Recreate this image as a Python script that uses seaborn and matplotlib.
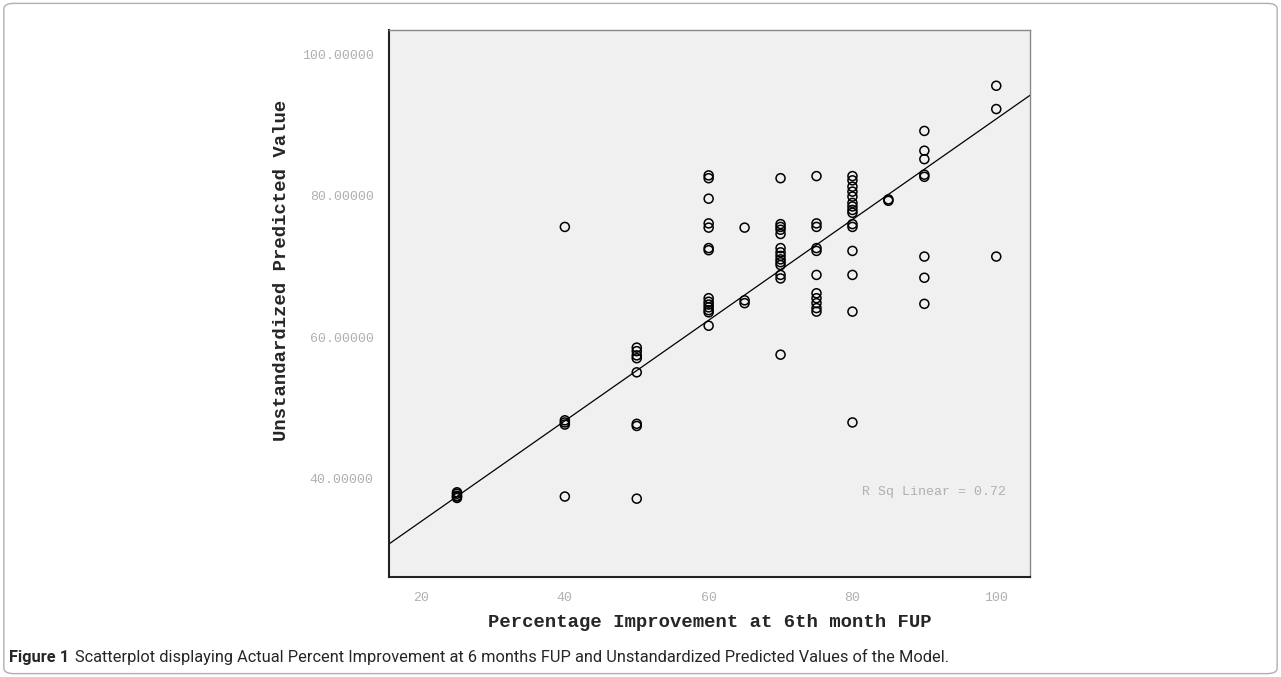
import matplotlib
matplotlib.use('Agg')
import matplotlib.pyplot as plt
import pandas as pd
import seaborn as sns
from matplotlib.patches import FancyBboxPatch

# Predicted values, grouped by actual % improvement
x_levels = [25, 40, 50, 60, 65, 70, 75, 80, 85, 90, 100]
pred_25 = [37.2, 37.5, 37.8, 38.0, 37.4]
pred_40 = [75.6, 48.2, 47.9, 47.6, 37.4]
pred_50 = [58.5, 58.0, 57.4, 57.0, 55.0, 47.7, 47.4, 37.1]
pred_60 = [82.9, 82.5, 79.6, 76.1, 75.5, 72.6, 72.3, 65.5, 65.0, 64.6, 64.2, 63.8, 63.5, 61.6]
pred_65 = [75.5, 65.2, 64.8]
pred_70 = [82.5, 76.0, 75.6, 75.2, 74.6, 72.6, 72.0, 71.5, 71.0, 70.6, 70.2, 68.8, 68.3, 57.5]
pred_75 = [82.8, 76.1, 75.6, 72.6, 72.2, 68.8, 66.2, 65.5, 64.8, 64.1, 63.6]
pred_80 = [82.8, 82.2, 81.3, 80.6, 79.9, 79.0, 78.5, 78.0, 77.6, 76.0, 75.6, 72.2, 68.8, 63.6, 47.9]
pred_85 = [79.3, 79.5]
pred_90 = [89.2, 86.4, 85.2, 83.0, 82.7, 71.4, 68.4, 64.7]
pred_100 = [95.6, 92.3, 71.4]
groups = [pred_25, pred_40, pred_50, pred_60, pred_65, pred_70, pred_75,
          pred_80, pred_85, pred_90, pred_100]

# fit line as drawn in the source (full data set, most points overlap)
fit_intercept = 19.6
fit_slope = 0.713
r_sq = 0.72

x_ticks = [20, 40, 60, 80, 100]
y_ticks = [40, 60, 80, 100]

rows = []
for xv, vals in zip(x_levels, groups):
    for v in vals:
        rows.append({'improvement': xv, 'predicted': v})
df = pd.DataFrame(rows)

sns.set_style('white')
mono = 'Liberation Mono'

fig = plt.figure(figsize=(12.81, 6.77), dpi=100)
ax = fig.add_axes([0.3037, 0.1477, 0.5004, 0.8080])
ax.set_facecolor('#f0f0f0')
ax.set_xlim(15.55, 104.7)
ax.set_ylim(26.0, 103.5)

ax.axline((0, fit_intercept), slope=fit_slope, color='black', lw=0.9)
sns.scatterplot(data=df, x='improvement', y='predicted', ax=ax, marker='o',
                s=42, facecolor='none', edgecolor='black', linewidth=1.1, zorder=3)

ax.set_xticks(x_ticks)
ax.set_xticklabels([str(t) for t in x_ticks])
ax.set_yticks(y_ticks)
ax.set_yticklabels(['%.5f' % t for t in y_ticks])
ax.tick_params(axis='both', direction='out', length=7, width=1.2, color='#222222',
               labelcolor='#b0b0b0', labelsize=9.5, pad=4)
for lab in ax.get_xticklabels() + ax.get_yticklabels():
    lab.set_family(mono)

for side in ['left', 'bottom']:
    ax.spines[side].set_color('#222222')
    ax.spines[side].set_linewidth(1.5)
for side in ['top', 'right']:
    ax.spines[side].set_color('#888888')
    ax.spines[side].set_linewidth(1.0)

ax.set_xlabel('Percentage Improvement at 6th month FUP', family=mono,
              fontweight='bold', fontsize=13.6, labelpad=7)
ax.set_ylabel('Unstandardized Predicted Value', family=mono,
              fontweight='bold', fontsize=13.6)
ax.yaxis.set_label_coords(-0.154, 0.56)

ax.text(0.9626, 0.155, 'R Sq Linear = %.2f' % r_sq, transform=ax.transAxes,
        ha='right', va='center', family=mono, fontsize=9.5, color='#b0b0b0')

# caption and figure frame
t1 = fig.text(0.007, 0.0295, 'Figure 1', family='Roboto', fontweight='bold',
              fontsize=11.8, va='center', ha='left')
ax.annotate('Scatterplot displaying Actual Percent Improvement at 6 months FUP and '
            'Unstandardized Predicted Values of the Model.',
            xy=(1, 0.5), xycoords=t1, xytext=(4, 0), textcoords='offset points',
            va='center', ha='left', family='Roboto', fontsize=11.8)
frame = FancyBboxPatch((0.003, 0.005), 0.994, 0.99, transform=fig.transFigure,
                       boxstyle='round,pad=0,rounding_size=0.008', fill=False,
                       edgecolor='#b0b0b0', lw=1.0)
fig.patches.append(frame)

fig.savefig('out.png', dpi=100)
